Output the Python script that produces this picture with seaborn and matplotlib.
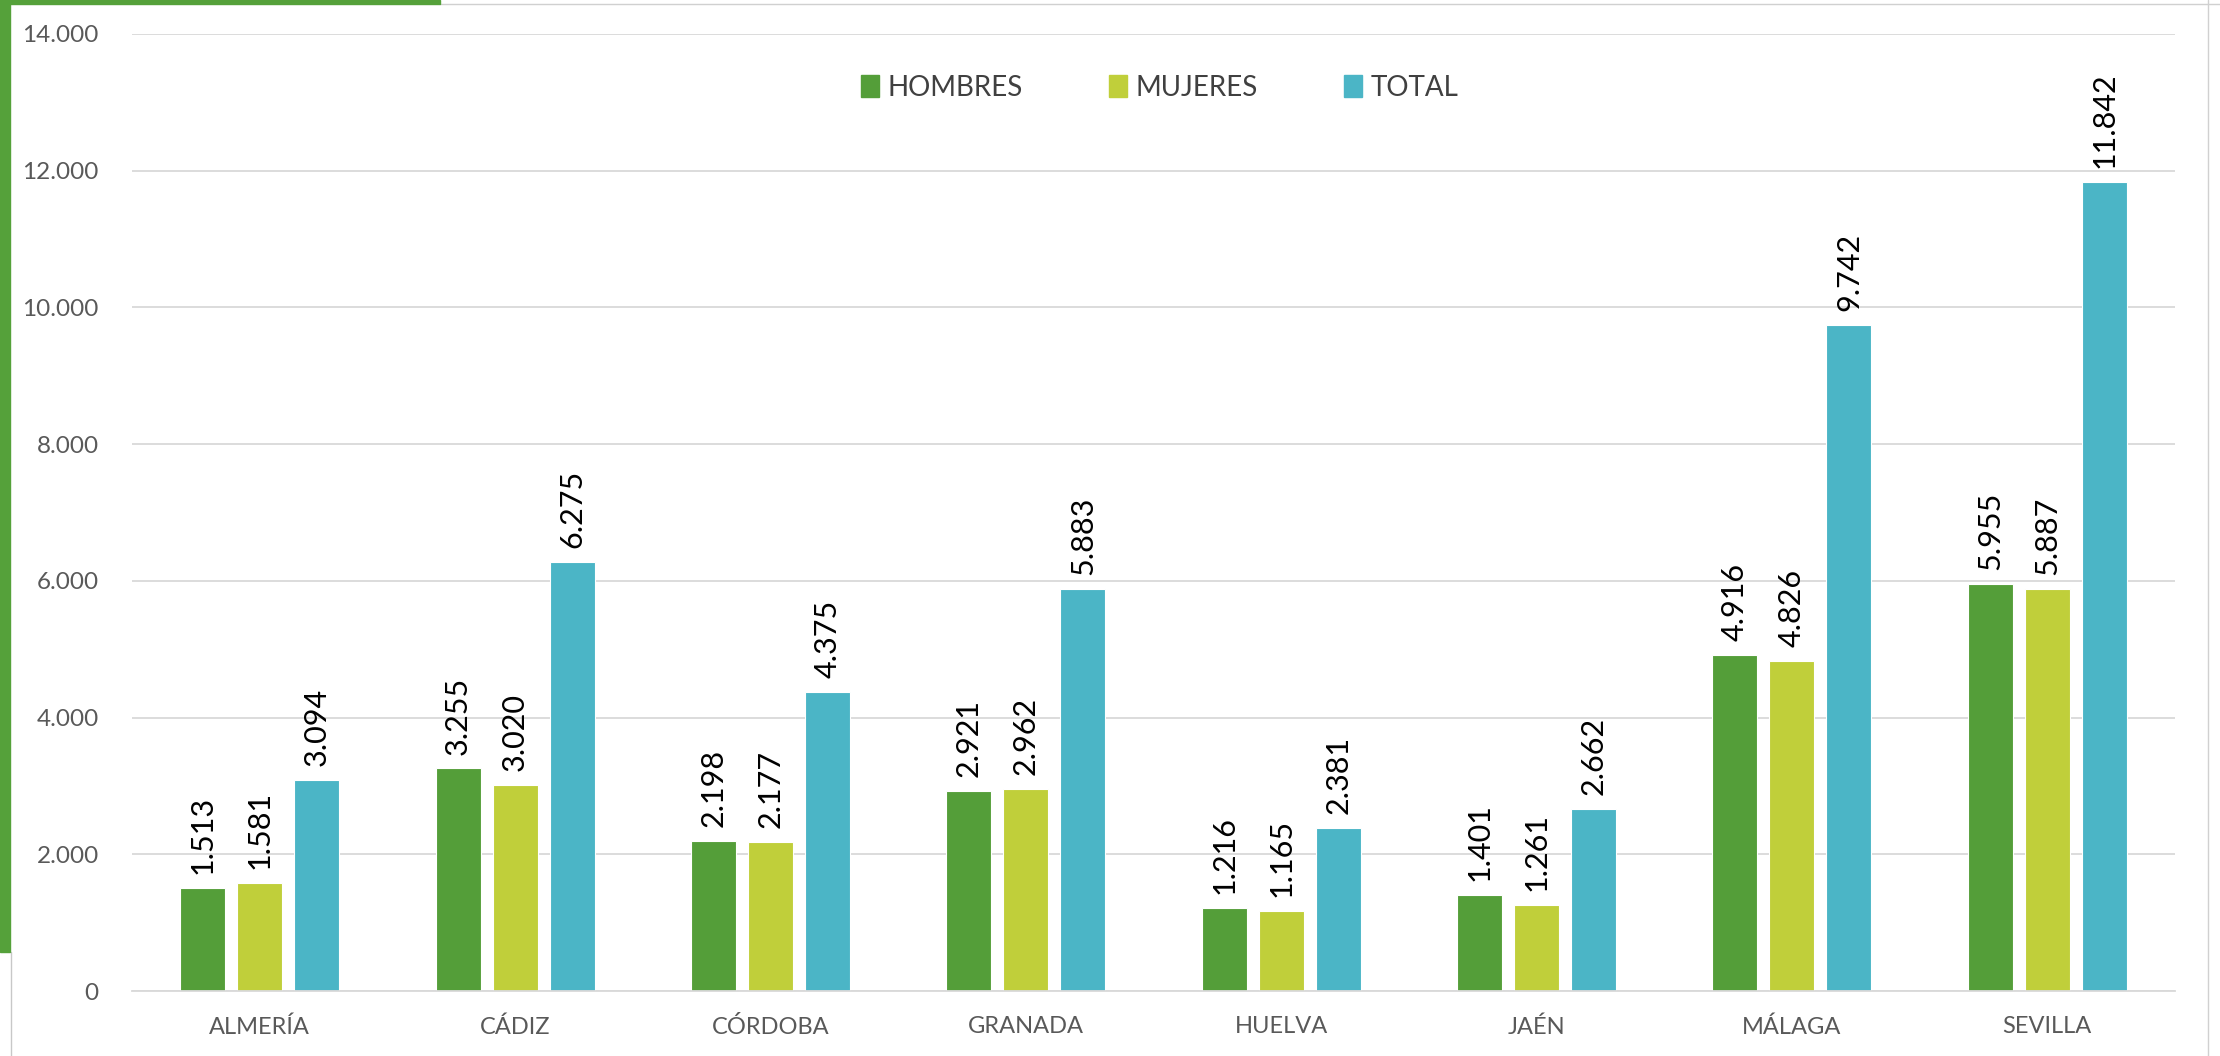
import pandas as pd
import numpy as np
import matplotlib
matplotlib.use("Agg")
import matplotlib.pyplot as plt
import seaborn as sns
from matplotlib.patches import Rectangle
from matplotlib.lines import Line2D

# datos por provincia
provincias = ['ALMERÍA', 'CÁDIZ', 'CÓRDOBA', 'GRANADA', 'HUELVA', 'JAÉN', 'MÁLAGA', 'SEVILLA']
hombres = [1513, 3255, 2198, 2921, 1216, 1401, 4916, 5955]
mujeres = [1581, 3020, 2177, 2962, 1165, 1261, 4826, 5887]
total = [3094, 6275, 4375, 5883, 2381, 2662, 9742, 11842]
series = ['HOMBRES', 'MUJERES', 'TOTAL']
colores = ['#549E39', '#C0CF3A', '#4BB5C6']
yticks = [0, 2000, 4000, 6000, 8000, 10000, 12000, 14000]

df = pd.DataFrame({
    'provincia': provincias * 3,
    'serie': np.repeat(series, len(provincias)),
    'valor': hombres + mujeres + total,
})

def miles(v):
    return f'{int(v):,}'.replace(',', '.')

sns.set_style('white')
plt.rcParams['font.family'] = ['Lato', 'DejaVu Sans']

W, H = 2220, 1056
fig = plt.figure(figsize=(W / 100, H / 100), dpi=100)
ax = fig.add_axes([132 / W, 1 - 991 / H, (2175 - 132) / W, (991 - 34) / H])

sns.barplot(data=df, x='provincia', y='valor', hue='serie', palette=colores,
            width=0.67, gap=0.21, ax=ax, edgecolor='white', linewidth=0.8,
            saturation=1)

for cont in ax.containers:
    ax.bar_label(cont, labels=[miles(b.get_height()) for b in cont],
                 rotation=90, padding=10, fontsize=22, color='black')

ax.set_ylim(0, 14000)
ax.set_xlim(-0.5, 7.5)
ax.set_yticks(yticks)
ax.set_yticklabels([miles(v) for v in yticks], fontsize=17.5, color='#595959')
ax.tick_params(axis='y', length=0, pad=24)
ax.tick_params(axis='x', length=0, pad=18, labelsize=17, labelcolor='#595959')
ax.set_xlabel('')
ax.set_ylabel('')
ax.yaxis.grid(True, color='#D9D9D9', linewidth=1.3)
ax.set_axisbelow(True)
for s in ['left', 'right', 'top']:
    ax.spines[s].set_visible(False)
ax.spines['bottom'].set_color('#D9D9D9')
ax.spines['bottom'].set_linewidth(1.3)

handles = [Rectangle((0, 0), 1, 1, color=c) for c in colores]
ax.legend(handles, series, loc='center', bbox_to_anchor=(0.503, 1 - (88 - 34) / (991 - 34)),
          ncol=3, frameon=False, fontsize=20, handlelength=0.65, handleheight=0.85,
          handletextpad=0.3, columnspacing=3.1, labelcolor='#404040')

# marco verde y gris
fig.patches.append(Rectangle((0, 1 - 952 / H), 10 / W, 952 / H,
                             transform=fig.transFigure, color='#55A13A', zorder=5))
fig.patches.append(Rectangle((0, 1 - 4 / H), 440 / W, 4 / H,
                             transform=fig.transFigure, color='#55A13A', zorder=5))
fig.lines.append(Line2D([10.5 / W, 10.5 / W], [0, 1 - 952 / H],
                        transform=fig.transFigure, color='#C8C8C8', lw=1))
fig.lines.append(Line2D([440 / W, 1], [1 - 4 / H, 1 - 4 / H],
                        transform=fig.transFigure, color='#D0D0D0', lw=1))
fig.lines.append(Line2D([2208 / W, 2208 / W], [0, 1],
                        transform=fig.transFigure, color='#D0D0D0', lw=1))

fig.savefig('out.png', dpi=100, facecolor='white')
